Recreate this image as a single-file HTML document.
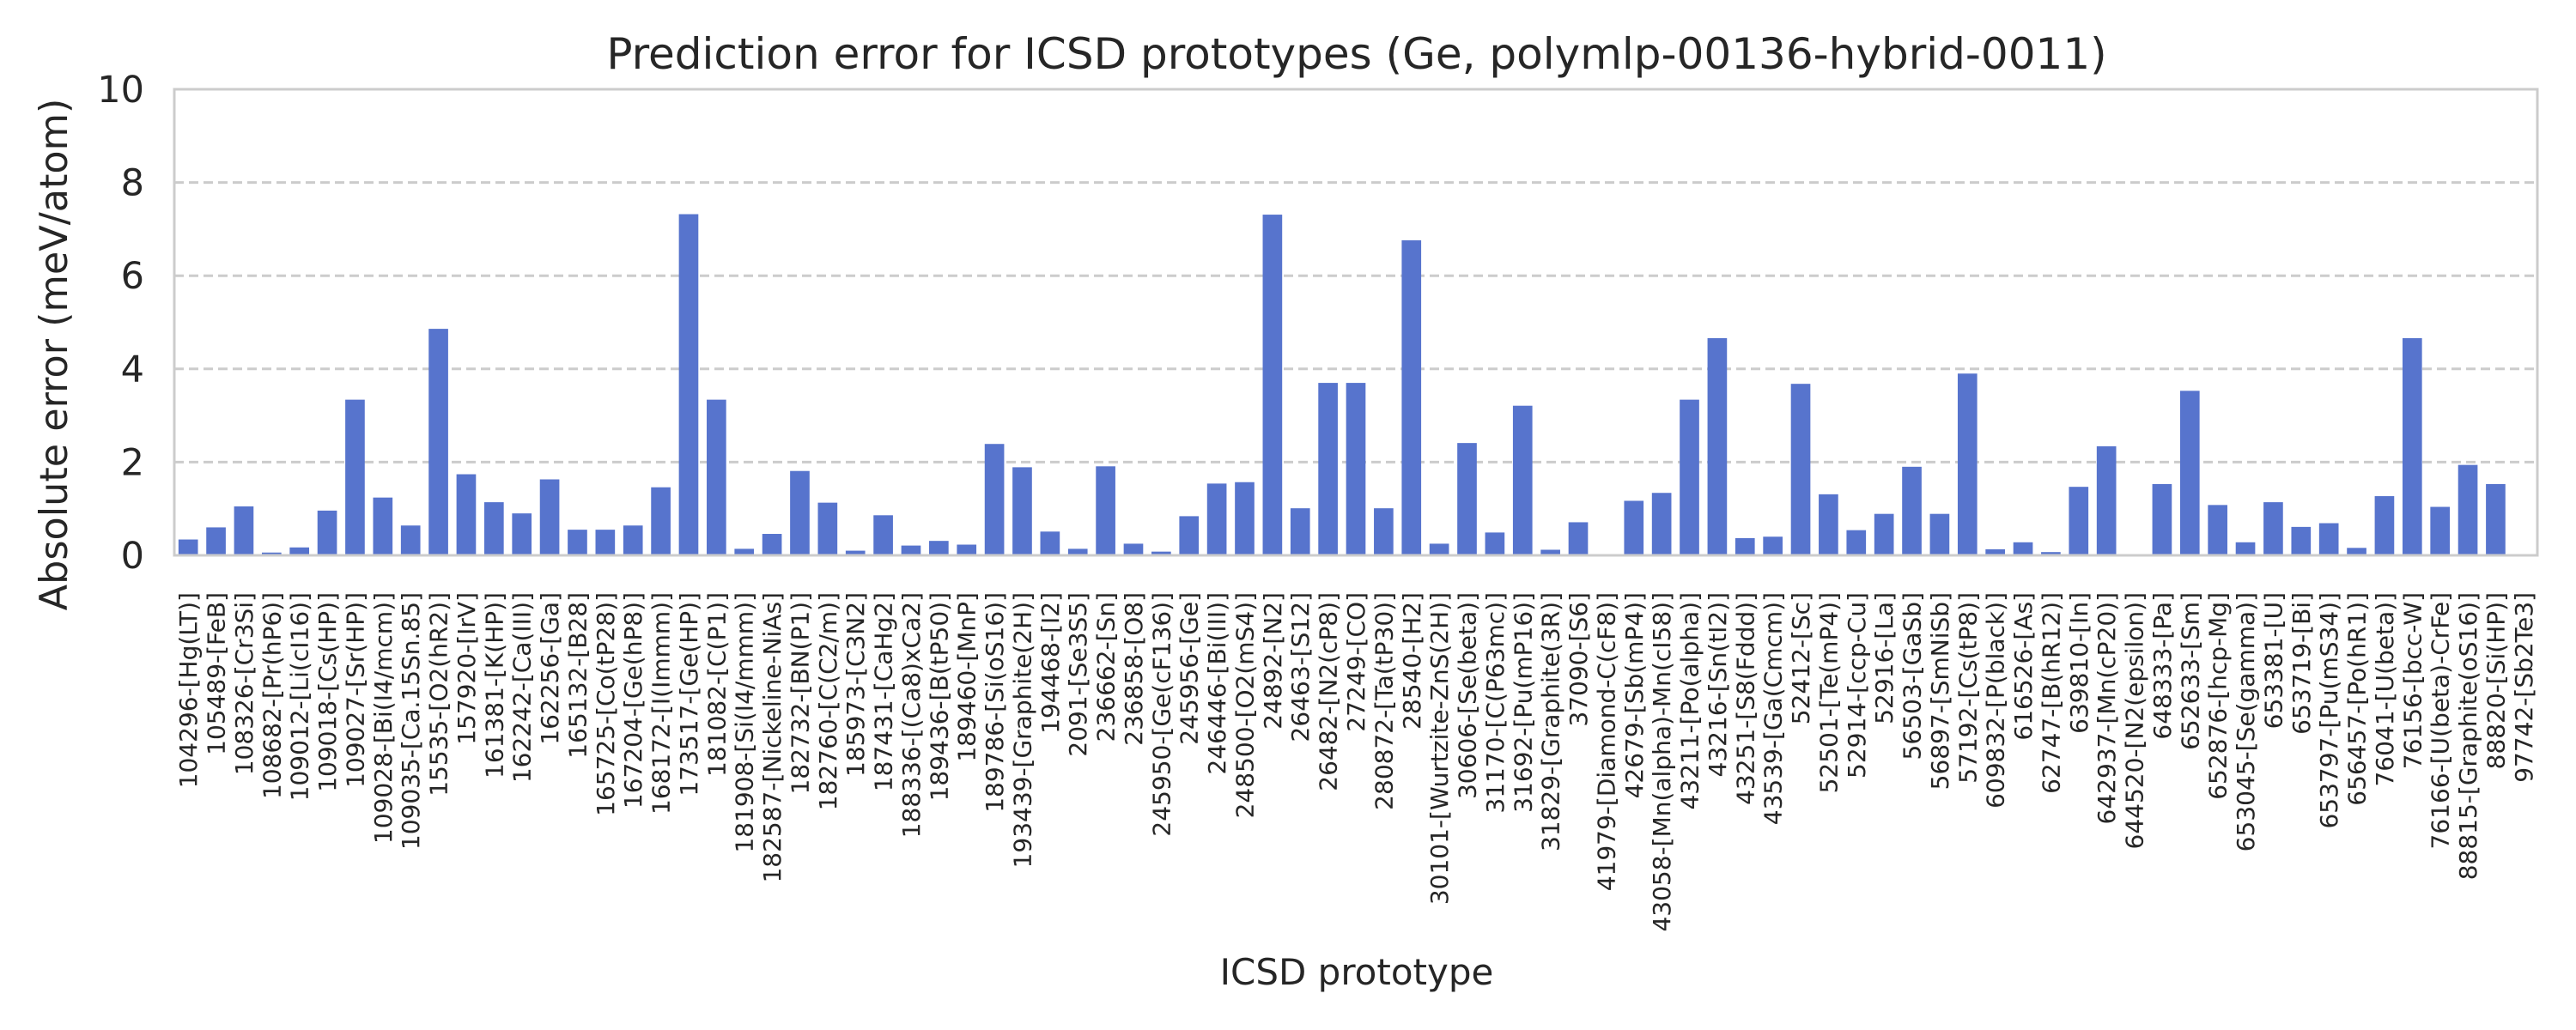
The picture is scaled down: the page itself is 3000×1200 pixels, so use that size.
<!DOCTYPE html>
<html><head><meta charset="utf-8"><style>
html,body{margin:0;padding:0;background:#fff;}
svg{display:block;font-family:"DejaVu Sans","Liberation Sans",sans-serif;}
</style></head><body>
<svg id="chart" width="3000" height="1200" viewBox="0 0 3000 1200" xmlns="http://www.w3.org/2000/svg">
<rect x="0" y="0" width="3000" height="1200" fill="#fff"/>
<text x="1580" y="80" text-anchor="middle" font-size="50" fill="#262626">Prediction error for ICSD prototypes (Ge, polymlp-00136-hybrid-0011)</text>
<text transform="translate(78,413) rotate(-90)" text-anchor="middle" font-size="44.5" fill="#262626">Absolute error (meV/atom)</text>
<text x="1580" y="1147" text-anchor="middle" font-size="42" fill="#262626">ICSD prototype</text>
<g id="grid"></g><g id="bars"></g><g id="yticks"></g><g id="xticks"></g>
<rect x="203" y="104" width="2752" height="543" fill="none" stroke="#cccccc" stroke-width="3"/>
</svg>
<script>
const categories = ["104296-[Hg(LT)]","105489-[FeB]","108326-[Cr3Si]","108682-[Pr(hP6)]","109012-[Li(cI16)]","109018-[Cs(HP)]","109027-[Sr(HP)]","109028-[Bi(I4/mcm)]","109035-[Ca.15Sn.85]","15535-[O2(hR2)]","157920-[IrV]","161381-[K(HP)]","162242-[Ca(III)]","162256-[Ga]","165132-[B28]","165725-[Co(tP28)]","167204-[Ge(hP8)]","168172-[I(Immm)]","173517-[Ge(HP)]","181082-[C(P1)]","181908-[Si(I4/mmm)]","182587-[Nickeline-NiAs]","182732-[BN(P1)]","182760-[C(C2/m)]","185973-[C3N2]","187431-[CaHg2]","188336-[(Ca8)xCa2]","189436-[B(tP50)]","189460-[MnP]","189786-[Si(oS16)]","193439-[Graphite(2H)]","194468-[I2]","2091-[Se3S5]","236662-[Sn]","236858-[O8]","245950-[Ge(cF136)]","245956-[Ge]","246446-[Bi(III)]","248500-[O2(mS4)]","24892-[N2]","26463-[S12]","26482-[N2(cP8)]","27249-[CO]","280872-[Ta(tP30)]","28540-[H2]","30101-[Wurtzite-ZnS(2H)]","30606-[Se(beta)]","31170-[C(P63mc)]","31692-[Pu(mP16)]","31829-[Graphite(3R)]","37090-[S6]","41979-[Diamond-C(cF8)]","42679-[Sb(mP4)]","43058-[Mn(alpha)-Mn(cI58)]","43211-[Po(alpha)]","43216-[Sn(tI2)]","43251-[S8(Fddd)]","43539-[Ga(Cmcm)]","52412-[Sc]","52501-[Te(mP4)]","52914-[ccp-Cu]","52916-[La]","56503-[GaSb]","56897-[SmNiSb]","57192-[Cs(tP8)]","609832-[P(black)]","616526-[As]","62747-[B(hR12)]","639810-[In]","642937-[Mn(cP20)]","644520-[N2(epsilon)]","648333-[Pa]","652633-[Sm]","652876-[hcp-Mg]","653045-[Se(gamma)]","653381-[U]","653719-[Bi]","653797-[Pu(mS34)]","656457-[Po(hR1)]","76041-[U(beta)]","76156-[bcc-W]","76166-[U(beta)-CrFe]","88815-[Graphite(oS16)]","88820-[Si(HP)]","97742-[Sb2Te3]"];
const errors = [0.34,0.6,1.05,0.06,0.17,0.96,3.34,1.24,0.64,4.86,1.74,1.14,0.9,1.63,0.55,0.55,0.64,1.46,7.32,3.34,0.14,0.46,1.81,1.13,0.1,0.86,0.21,0.31,0.23,2.39,1.89,0.51,0.14,1.91,0.25,0.08,0.84,1.54,1.57,7.31,1.01,3.7,3.7,1.01,6.76,0.25,2.41,0.49,3.21,0.12,0.71,0,1.17,1.34,3.34,4.66,0.37,0.4,3.68,1.31,0.54,0.89,1.9,0.89,3.9,0.13,0.28,0.07,1.47,2.34,0,1.53,3.53,1.08,0.28,1.14,0.61,0.69,0.16,1.27,4.66,1.04,1.94,1.53,0];
const yTicks = [0,2,4,6,8,10];

const NS = "http://www.w3.org/2000/svg";
const L = 203, R = 2955, T = 104, B = 647;
const yMax = 10;
function yScale(v){ return B - (v / yMax) * (B - T); }
const slot = (R - L) / categories.length;
function xCenter(i){ return L + (i + 0.5) * slot; }
function mk(tag, attrs, parent){ const e = document.createElementNS(NS, tag); for (const k in attrs) e.setAttribute(k, attrs[k]); parent.appendChild(e); return e; }

const grid = document.getElementById('grid'), yt = document.getElementById('yticks');
yTicks.forEach(t => {
  const y = yScale(t);
  if (t > 0 && t < yMax) {
    const ln = mk('line', {x1: L, x2: R, y1: y, y2: y, stroke: '#cccccc', 'stroke-width': 3, 'stroke-dasharray': '11 6'}, grid);
    
    
  }
  const tx = mk('text', {x: 168, y: y + 15, 'text-anchor': 'end', 'font-size': 43, fill: '#262626'}, yt);
  tx.textContent = String(t);
  
  
});

const bars = document.getElementById('bars'), xt = document.getElementById('xticks');
const bw = slot * 0.7;
categories.forEach((c, i) => {
  const v = errors[i];
  const cx = xCenter(i);
  const y = yScale(v);
  const r = mk('rect', {x: cx - bw / 2, y: y, width: bw, height: Math.max(0, B - y), fill: '#5774cd'}, bars);
  
  
  const tx = mk('text', {transform: 'translate(' + (cx + 10) + ',690) rotate(-90)', 'text-anchor': 'end', 'font-size': 28, fill: '#262626'}, xt);
  tx.textContent = c;
  
  
});
</script>
</body></html>
